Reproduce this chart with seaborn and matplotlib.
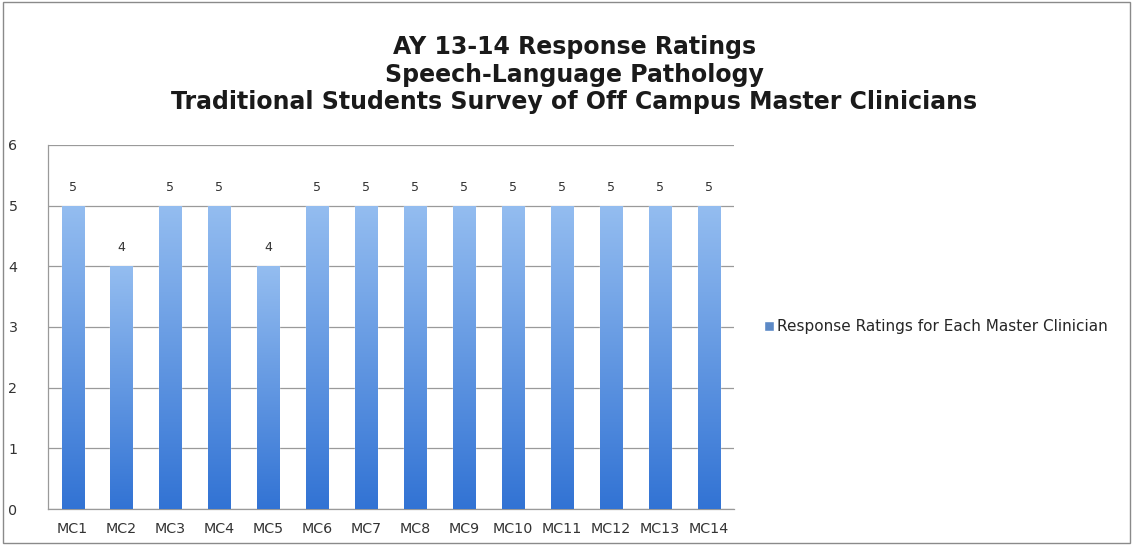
import numpy as np
import pandas as pd
import seaborn as sns
import matplotlib.pyplot as plt
from matplotlib.patches import Rectangle

clinicians = ["MC1", "MC2", "MC3", "MC4", "MC5", "MC6", "MC7",
              "MC8", "MC9", "MC10", "MC11", "MC12", "MC13", "MC14"]
ratings = [5, 4, 5, 5, 4, 5, 5, 5, 5, 5, 5, 5, 5, 5]
series_name = "Response Ratings for Each Master Clinician"
title_lines = ["AY 13-14 Response Ratings",
               "Speech-Language Pathology",
               "Traditional Students Survey of Off Campus Master Clinicians"]

sns.set_style("white")
plt.rcParams['font.family'] = ['DejaVu Sans']

df = pd.DataFrame({"clinician": clinicians, "rating": ratings})

fig = plt.figure(figsize=(11.33, 5.45), dpi=100)
ax = fig.add_axes([0.0424, 0.066, 0.605, 0.668])

sns.barplot(data=df, x="clinician", y="rating", color="#4a86d8",
            width=0.45, ax=ax, label=series_name, zorder=3)

# vertical gradient on each bar
grad = np.linspace(0, 1, 256).reshape(-1, 1)
cmap = sns.blend_palette(["#3273d4", "#94bdf0"], as_cmap=True)
for p in ax.patches:
    x0, y0 = p.get_x(), p.get_y()
    w, h = p.get_width(), p.get_height()
    im = ax.imshow(grad, extent=[x0, x0 + w, y0, y0 + h], origin="lower",
                   cmap=cmap, aspect="auto", zorder=4)
    im.set_clip_path(p)
    ax.text(x0 + w / 2, h + 0.2, f"{int(h)}", ha="center", va="bottom",
            fontsize=9, color="#333333", zorder=5)

ax.set_xlim(-0.5, len(clinicians) - 0.5)
ax.set_ylim(0, 6)
ax.set_yticks(range(7))
ax.yaxis.grid(True, color="#9a9a9a", linewidth=0.9, zorder=0)
ax.set_xlabel("")
ax.set_ylabel("")
ax.tick_params(axis="both", labelsize=10.3, colors="#333333", length=0)
ax.tick_params(axis="y", pad=22)
ax.tick_params(axis="x", pad=9)
ax.set_xticks(np.arange(len(clinicians) + 1) - 0.5, minor=True)
ax.tick_params(axis="x", which="minor", length=3, color="#888888", direction="out")
for side in ["top", "right"]:
    ax.spines[side].set_visible(False)
for side in ["left", "bottom"]:
    ax.spines[side].set_color("#9a9a9a")
    ax.spines[side].set_linewidth(0.9)

ax.legend(loc="center left", bbox_to_anchor=(1.025, 0.5), frameon=False,
          fontsize=11, handlelength=0.6, handleheight=0.6, handletextpad=0.25)

for line, y in zip(title_lines, [0.914, 0.862, 0.813]):
    fig.text(0.507, y, line, ha="center", va="center",
             fontsize=17, fontweight="bold", color="#1a1a1a")

fig.patches.append(Rectangle((0.003, 0.003), 0.994, 0.994, transform=fig.transFigure,
                             fill=False, edgecolor="#8a8a8a", linewidth=1))

fig.savefig("out.png", dpi=100)
